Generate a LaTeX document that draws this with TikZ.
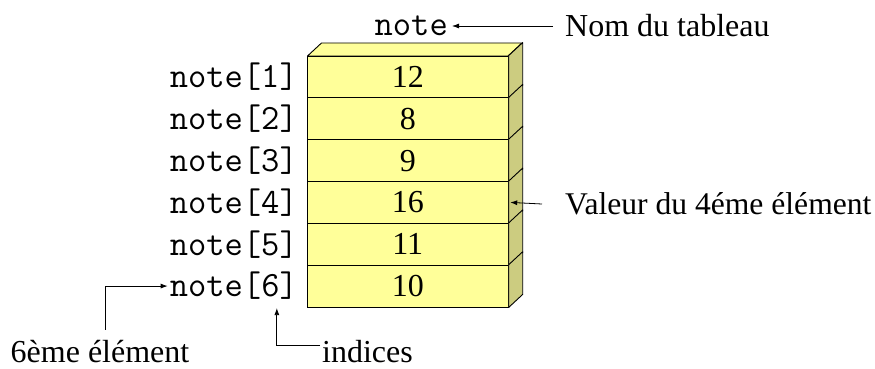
\documentclass[tikz,border=0pt]{standalone}
\usepackage{fontspec}
\setmainfont{Liberation Serif}
\usetikzlibrary{arrows.meta,calc}
\definecolor{frontc}{RGB}{255,255,153}
\definecolor{sidec}{RGB}{204,204,128}
\tikzset{
  cell/.style={draw=black,line width=0.9pt,fill=frontc,minimum width=201pt,minimum height=41.8pt,
    inner sep=0pt,font=\fontsize{32}{38}\selectfont},
  side/.style={draw=black,line width=0.9pt,fill=sidec,line join=round},
  topface/.style={draw=black,line width=0.9pt,fill=frontc,line join=round},
  idx/.style={anchor=east,inner sep=0pt,font=\ttfamily\fontsize{35.5}{40}\selectfont},
  lbl/.style={inner sep=0pt,font=\fontsize{32}{38}\selectfont},
  arr/.style={line width=0.8pt,-{Latex[length=7pt,width=5pt]}}
}
\begin{document}
\begin{tikzpicture}[x=1pt,y=-1pt]
\useasboundingbox (0,0) rectangle (875,369);
% top face of the block
\draw[topface] (307.5,56) -- (321.5,43) -- (522,43) -- (508,56) -- cycle;
% the six cells of the array
\foreach \v [count=\i] in {12,8,9,16,11,10}{
  \pgfmathsetmacro{\yc}{56+41.83*(\i-0.5)}
  \node[cell] (v\i) at (407.75,\yc) {\v};
  \draw[side] (v\i.north east) -- ++(14,-13) -- ($(v\i.south east)+(14,-13)$) -- (v\i.south east) -- cycle;
  \node[idx] (n\i) at (298,\yc) {note[\i]};
}
% array name
\node[idx] (nm) at (448,26) {note};
\node[lbl,anchor=west] (nom) at (565,26) {Nom du tableau};
\draw[arr] ([xshift=-12pt]nom.west) -- ([xshift=4pt]nm.east);
% value of the fourth element
\node[lbl,anchor=west,font=\fontsize{31.6}{38}\selectfont] (val) at (565,204) {Valeur du 4éme élément};
\draw[arr] ([xshift=-23pt]val.west) -- ([xshift=1.5pt]v4.east);
% sixth element
\node[lbl,anchor=base] (six) at (100,362) {6ème élément};
\draw[arr] ([xshift=5pt,yshift=10pt]six.north) |- ([xshift=-2pt]n6.west);
% indices
\node[lbl,anchor=base west] (ind) at (322,362) {indices};
\coordinate (indc) at (320,345);
\draw[arr] (indc) -| ([xshift=43pt,yshift=-8pt]n6.south);
\end{tikzpicture}
\end{document}
